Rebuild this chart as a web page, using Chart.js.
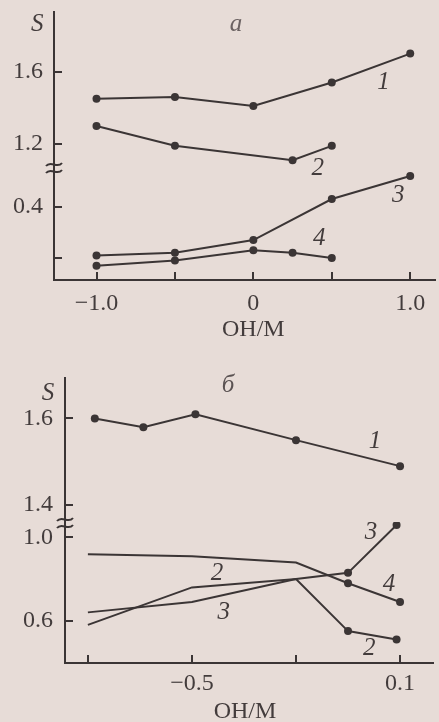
<!DOCTYPE html>
<html lang="ru">
<head>
<meta charset="UTF-8">
<title>S vs OH/M</title>
<style>
  body {
    margin: 0;
    width: 439px;
    height: 722px;
    overflow: hidden;
    position: relative;
    background: #e7dcd7;
  }
  .panel { position: absolute; left: 0; width: 439px; }
  #panelA { top: 0; height: 345px; }
  #panelB { top: 360px; height: 362px; }
</style>
<script src="https://cdn.jsdelivr.net/npm/chart.js"></script>
</head>
<body>
<div class="panel" id="panelA"><canvas id="chartA"></canvas></div>
<div class="panel" id="panelB"><canvas id="chartB"></canvas></div>
<script>
// ---- panel a ----
const aX1 = [-1.0, -0.5, 0, 0.5, 1.0];
const aS1 = [1.45, 1.46, 1.41, 1.54, 1.70];
const aX2 = [-1.0, -0.5, 0.25, 0.5];
const aS2 = [1.30, 1.19, 1.11, 1.19];
const aX3 = [-1.0, -0.5, 0, 0.5, 1.0];
const aS3 = [0.21, 0.22, 0.27, 0.43, 0.52];
const aX4 = [-1.0, -0.5, 0, 0.25, 0.5];
const aS4 = [0.17, 0.19, 0.23, 0.22, 0.20];

const aXTicks = [-1.0, -0.5, 0, 0.5, 1.0];
const aXLabels = ['\u22121.0', '', '0', '', '1.0'];
const aYUpTicks = [1.2, 1.6];
const aYUpLabels = ['1.2', '1.6'];
const aYLoTicks = [0.2, 0.4];
const aYLoLabels = ['', '0.4'];

// ---- panel б ----
const bX1 = [-0.78, -0.64, -0.49, -0.2, 0.1];
const bS1 = [1.60, 1.58, 1.61, 1.55, 1.49];
const bX2 = [-0.8, -0.5, -0.2, -0.05, 0.09];
const bS2 = [0.58, 0.76, 0.80, 0.55, 0.51];
const bX3 = [-0.8, -0.5, -0.2, -0.05, 0.09];
const bS3 = [0.64, 0.69, 0.80, 0.83, 1.06];
const bX4 = [-0.8, -0.5, -0.2, -0.05, 0.1];
const bS4 = [0.92, 0.91, 0.88, 0.78, 0.69];

const bXTicks = [-0.8, -0.5, -0.2, 0.1];
const bXLabels = ['', '\u22120.5', '', '0.1'];
const bYUpTicks = [1.4, 1.6];
const bYUpLabels = ['1.4', '1.6'];
const bYLoTicks = [0.6, 1.0];
const bYLoLabels = ['0.6', '1.0'];

const INK = '#3b3535';
const TEXT = '#433c3c';
const SERIF = '"Liberation Serif", "Times New Roman", serif';

Chart.defaults.font.family = SERIF;
Chart.defaults.font.size = 24;
Chart.defaults.color = TEXT;

const pts = (xs, ys) => xs.map((x, i) => ({x: x, y: ys[i]}));

// fixed axis thickness, no extra padding for edge labels
function fixSize(prop, size) {
  return s => {
    s[prop] = size;
    s.paddingLeft = s.paddingRight = s.paddingTop = s.paddingBottom = 0;
  };
}

function xScale(min, max, ticks, labels, height, pad) {
  return {
    type: 'linear', min: min, max: max, bounds: 'data',
    grid: {display: false, drawTicks: false},
    border: {display: true, color: INK, width: 2},
    ticks: {padding: pad, maxRotation: 0, autoSkip: false, callback: (v, i) => labels[i]},
    afterBuildTicks: s => { s.ticks = ticks.map(v => ({value: v})); },
    afterFit: fixSize('height', height)
  };
}

function yScale(min, max, ticks, labels, weight, width, pad) {
  return {
    type: 'linear', axis: 'y', position: 'left', stack: 's', stackWeight: weight,
    min: min, max: max, bounds: 'data',
    grid: {display: false, drawTicks: false},
    border: {display: true, color: INK, width: 2},
    ticks: {padding: pad, callback: (v, i) => labels[i]},
    afterBuildTicks: s => { s.ticks = ticks.map(v => ({value: v})); },
    afterFit: fixSize('width', width)
  };
}

function line(xs, ys, axis, radius) {
  return {
    data: pts(xs, ys), yAxisID: axis,
    borderColor: INK, borderWidth: 2, tension: 0,
    pointRadius: radius, pointBackgroundColor: INK, pointBorderWidth: 0
  };
}

// inward tick marks, axis break sign and curve numbers
function makeDecor(labels) {
  return {
    id: 'decor',
    afterDraw(chart) {
      const ctx = chart.ctx;
      ctx.save();
      ctx.strokeStyle = INK;
      ctx.lineWidth = 2;
      Object.values(chart.scales).forEach(s => {
        s.ticks.forEach(t => {
          const p = Math.round(s.getPixelForValue(t.value));
          ctx.beginPath();
          if (s.isHorizontal()) { ctx.moveTo(p, s.top); ctx.lineTo(p, s.top - 8); }
          else { ctx.moveTo(s.right, p); ctx.lineTo(s.right + 8, p); }
          ctx.stroke();
        });
      });
      // break sign: two tildes across the axis where the segments meet
      const up = chart.scales.yUp;
      const bx = up.right, by = up.bottom + 1;
      [-3.5, 3.5].forEach(d => {
        ctx.beginPath();
        ctx.moveTo(bx - 8, by + d + 1.5);
        ctx.bezierCurveTo(bx - 3, by + d - 5, bx + 3, by + d + 5, bx + 8, by + d - 1.5);
        ctx.stroke();
      });
      ctx.textAlign = 'center';
      ctx.textBaseline = 'middle';
      labels.forEach(l => {
        ctx.fillStyle = l.color || TEXT;
        ctx.font = (l.italic ? 'italic ' : '') + (l.size || 25) + 'px ' + SERIF;
        ctx.fillText(l.text, chart.scales.x.getPixelForValue(l.x), chart.scales[l.axis].getPixelForValue(l.y));
      });
      ctx.restore();
    }
  };
}

const labelsA = [
  {text: '\u0430', x: -0.11, y: 1.864, axis: 'yUp', italic: true, color: '#6b6262'},
  {text: 'S', x: -1.378, y: 1.86, axis: 'yUp', italic: true},
  {text: '1', x: 0.83, y: 1.543, axis: 'yUp', italic: true},
  {text: '2', x: 0.41, y: 0.551, axis: 'yLo', italic: true},
  {text: '3', x: 0.924, y: 0.446, axis: 'yLo', italic: true},
  {text: '4', x: 0.42, y: 0.278, axis: 'yLo', italic: true},
  {text: 'OH/M', x: 0, y: -0.081, axis: 'yLo', size: 24}
];

const labelsB = [
  {text: '\u0431', x: -0.396, y: 1.677, axis: 'yUp', italic: true, color: '#5a5252'},
  {text: 'S', x: -0.915, y: 1.657, axis: 'yUp', italic: true},
  {text: '1', x: 0.028, y: 1.546, axis: 'yUp', italic: true},
  {text: '3', x: 0.016, y: 1.022, axis: 'yLo', italic: true},
  {text: '2', x: -0.428, y: 0.829, axis: 'yLo', italic: true},
  {text: '3', x: -0.408, y: 0.642, axis: 'yLo', italic: true},
  {text: '4', x: 0.068, y: 0.772, axis: 'yLo', italic: true},
  {text: '2', x: 0.011, y: 0.469, axis: 'yLo', italic: true},
  {text: 'OH/M', x: -0.347, y: 0.161, axis: 'yLo', size: 24}
];

const common = {
  responsive: true,
  maintainAspectRatio: false,
  animation: false,
  events: [],
  plugins: {legend: {display: false}, tooltip: {enabled: false}}
};

// left-hand boxes are stacked in reverse order, so the lower segment is listed first
new Chart(document.getElementById('chartA'), {
  type: 'line',
  data: {
    datasets: [
      line(aX1, aS1, 'yUp', 4),
      line(aX2, aS2, 'yUp', 4),
      line(aX3, aS3, 'yLo', 4),
      line(aX4, aS4, 'yLo', 4)
    ]
  },
  options: Object.assign({}, common, {
    layout: {padding: {top: 12, right: 0, bottom: 0, left: 0}},
    scales: {
      x: xScale(-1.271, 1.158, aXTicks, aXLabels, 65, 9),
      yLo: yScale(0.114, 0.555, aYLoTicks, aYLoLabels, 113, 54, 11),
      yUp: yScale(1.073, 1.930, aYUpTicks, aYUpLabels, 155, 54, 11)
    }
  }),
  plugins: [makeDecor(labelsA)]
});

// in panel б only the right-hand points of curves 2-4 carry markers
const tailOnly = c => c.dataIndex >= 3 ? 4 : 0;

new Chart(document.getElementById('chartB'), {
  type: 'line',
  data: {
    datasets: [
      line(bX1, bS1, 'yUp', 4),
      line(bX2, bS2, 'yLo', tailOnly),
      line(bX3, bS3, 'yLo', tailOnly),
      line(bX4, bS4, 'yLo', tailOnly)
    ]
  },
  options: Object.assign({}, common, {
    layout: {padding: {top: 18, right: 6, bottom: 0, left: 0}},
    scales: {
      x: xScale(-0.866, 0.195, bXTicks, bXLabels, 59, 6),
      yLo: yScale(0.3966, 1.0745, bYLoTicks, bYLoLabels, 141, 65, 12),
      yUp: yScale(1.361, 1.6935, bYUpTicks, bYUpLabels, 144, 65, 12)
    }
  }),
  plugins: [makeDecor(labelsB)]
});
</script>
</body>
</html>
